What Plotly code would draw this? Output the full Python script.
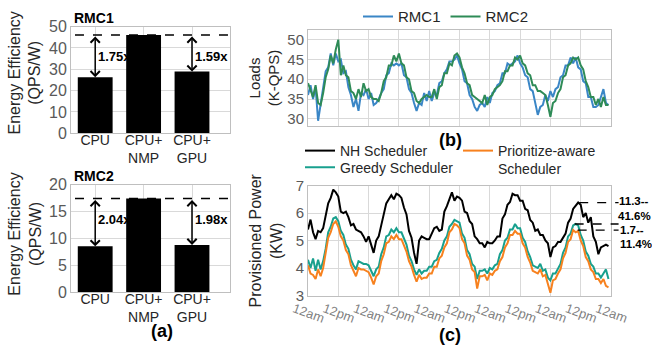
import plotly.graph_objects as go

# ---------------- data ----------------
categories = ["CPU", "CPU+<br>NMP", "CPU+<br>GPU"]
rmc1_eff = [26.3, 46.0, 28.9]
rmc2_eff = [8.53, 17.4, 8.79]
rmc1_ratio_labels = ["1.75x", "1.59x"]
rmc2_ratio_labels = ["2.04x", "1.98x"]

hours = list(range(120))
tick_hours = [0, 12, 24, 36, 48, 60, 72, 84, 96, 108, 120]
tick_text = ["12am", "12pm", "12am", "12pm", "12am", "12pm",
             "12am", "12pm", "12am", "12pm", "12am"]

load_rmc1 = [36, 38.5, 35, 38, 29.5, 34, 37.5, 42, 43, 46.5,
             43.5, 46.5, 44.5, 45, 41.5, 42, 38, 36, 33, 35,
             32, 36.5, 36, 37.5, 35, 36.5, 33.5, 34, 35, 36.5,
             37.5, 41, 41.5, 44, 43.5, 44, 43.5, 44, 41, 40.5,
             37.5, 36.5, 34, 32, 34, 33.5, 36.5, 34.5, 37, 34.5,
             36.5, 36, 39, 39.5, 41.5, 42.5, 44.5, 44.5, 45, 46,
             44, 42.5, 39.5, 39, 36, 35, 33, 32, 33.5, 34,
             33, 35.5, 34, 36.5, 37, 38.5, 39, 41.5, 41.5, 44,
             43.5, 44, 44.5, 46, 44, 43, 41, 40.5, 37.5, 37,
             33.5, 31, 33, 33.5, 36, 34.5, 37, 35.5, 37.5, 38,
             40.5, 41, 43.5, 43.5, 45.5, 44, 45.5, 43, 42.5, 39.5,
             39, 35.5, 35.5, 33, 33, 33.5, 35.5, 37.5, 34, 33.5]

load_rmc2 = [39, 37, 35.5, 38.5, 34, 33.5, 36.5, 40.5, 42.5, 46,
             44, 47.5, 50, 41, 43.5, 41, 40.5, 37, 36.5, 35,
             37.5, 35.5, 39, 37, 37.5, 35.5, 35, 35, 34.5, 36.5,
             39.5, 40.5, 43.5, 43.5, 46, 44.5, 46.5, 44, 43.5, 40.5,
             40, 37, 36.5, 34.5, 34, 35, 35.5, 36, 35.5, 35.5,
             37.5, 35, 38, 38.5, 41.5, 41.5, 44, 43.5, 46, 46.5,
             45.5, 43, 41.5, 39, 38.5, 36, 35.5, 35, 34.5, 34,
             36, 33.5, 35.5, 36, 37.5, 38, 38.5, 39.5, 42, 42,
             43.5, 43.5, 45.5, 45, 46, 44, 43.5, 41.5, 41, 38.5,
             38.5, 37, 37, 36.5, 36, 33.5, 30.5, 34, 34.5, 36.5,
             37.5, 40.5, 41, 43.5, 44, 45.5, 45, 45.5, 43.5, 42.5,
             39.5, 38, 35.5, 35.5, 33.5, 35, 33, 35.5, 33.5, 33.5]

power_nh = [5.4, 5.76, 5.3, 5.05, 5.35, 5.3, 5.45, 5.85, 6.35, 6.55,
            6.85, 6.75, 6.6, 6.05, 6.0, 6.05, 5.85, 5.55, 5.6, 5.4,
            5.35, 5.3, 5.15, 4.95, 5.15, 4.85, 4.55, 5.0, 5.15, 5.55,
            5.9, 6.35, 6.5, 6.65, 6.5, 6.7, 6.65, 6.55, 6.2, 5.95,
            5.35, 5.1, 4.55, 4.15, 5.0, 5.15, 5.1, 5.05, 5.05, 5.25,
            5.45, 5.5, 5.35, 5.4, 6.05, 6.25, 6.5, 6.75, 6.45, 6.6,
            6.55, 6.45, 6.05, 6.0, 5.7, 5.6, 5.15, 5.05, 4.9, 4.9,
            4.75, 4.95, 4.9, 4.9, 5.0, 5.15, 5.15, 5.8, 5.95, 6.3,
            6.4, 6.7, 6.65, 6.65, 6.45, 6.45, 6.15, 6.1, 5.75, 5.65,
            5.35, 5.4, 5.2, 5.2, 5.0, 4.9, 4.4, 4.75, 4.8, 4.95,
            4.95, 5.1, 5.25, 5.65, 5.8, 6.15, 6.25, 6.38, 6.3, 5.85,
            6.0, 5.65, 5.85, 5.15, 4.95, 4.5, 4.75, 4.8, 4.85, 4.8]

power_greedy = [4.3, 4.0, 4.35, 3.9, 4.3, 3.95, 4.25, 4.7, 5.3, 5.5,
                5.8, 5.85, 5.7, 5.35, 5.2, 4.85, 4.7, 4.3, 4.1, 3.95,
                4.25, 4.2, 4.15, 4.15, 4.1, 3.9, 3.7, 3.95, 4.05, 4.5,
                4.75, 5.15, 5.2, 5.4, 5.3, 5.45, 5.3, 5.3, 5.05, 4.85,
                4.45, 4.25, 3.95, 3.75, 3.95, 3.8, 3.9, 3.9, 4.05, 4.05,
                4.25, 4.3, 4.55, 4.7, 5.0, 5.15, 5.5, 5.6, 5.75, 5.7,
                5.65, 5.25, 5.1, 4.65, 4.5, 4.15, 4.05, 3.6, 3.9, 3.9,
                3.95, 3.8, 4.0, 3.95, 4.1, 4.15, 4.5, 4.65, 5.0, 5.1,
                5.4, 5.4, 5.6, 5.45, 5.45, 5.1, 4.95, 4.6, 4.4, 4.1,
                4.05, 4.0, 4.15, 3.9, 3.95, 3.65, 3.55, 3.8, 3.8, 4.0,
                4.15, 4.55, 4.75, 5.15, 5.25, 5.55, 5.6, 5.55, 5.2, 5.0,
                4.6, 4.45, 4.15, 4.05, 3.8, 3.8, 3.65, 3.8, 3.95, 3.6]

power_prio = [4.1, 3.8, 3.75, 3.6, 3.95, 3.7, 4.0, 4.5, 5.1, 5.3,
              5.6, 5.7, 5.5, 5.15, 5.0, 4.65, 4.5, 4.1, 3.9, 3.7,
              4.0, 3.95, 3.95, 3.9, 3.85, 3.65, 3.4, 3.7, 3.8, 4.25,
              4.5, 4.9, 4.95, 5.15, 5.05, 5.2, 5.05, 5.05, 4.85, 4.6,
              4.25, 4.05, 3.75, 3.5, 3.75, 3.6, 3.65, 3.65, 3.8, 3.8,
              4.05, 4.05, 4.35, 4.45, 4.75, 4.9, 5.3, 5.4, 5.6, 5.55,
              5.45, 5.05, 4.9, 4.45, 4.3, 3.95, 3.85, 3.25, 3.7, 3.7,
              3.75, 3.55, 3.8, 3.75, 3.9, 3.95, 4.25, 4.4, 4.75, 4.9,
              5.2, 5.2, 5.35, 5.25, 5.25, 4.9, 4.75, 4.4, 4.2, 3.9,
              3.85, 3.8, 3.95, 3.7, 3.75, 3.4, 3.1, 3.55, 3.6, 3.8,
              3.95, 4.35, 4.55, 4.95, 5.05, 5.38, 5.3, 5.35, 5.0, 4.8,
              4.4, 4.25, 3.95, 3.85, 3.6, 3.6, 3.45, 3.6, 3.35, 3.3]

saving_labels = ["11.3--", "41.6%", "1.7--", "11.4%"]

# ---------------- styling ----------------
FONT = "Liberation Sans, Arial, sans-serif"
GRID = "#d9d9d9"
FRAME = "#bfbfbf"
TICKC = "#595959"
TEXTC = "#262626"
W, H = 652, 347


def px_x(x):
    return x / W


def px_y(y):
    return 1 - y / H


fig = go.Figure()

# (a) bars
fig.add_trace(go.Bar(x=categories, y=rmc1_eff, marker_color="black", width=0.72,
                     showlegend=False, xaxis="x", yaxis="y"))
fig.add_trace(go.Bar(x=categories, y=rmc2_eff, marker_color="black", width=0.72,
                     showlegend=False, xaxis="x2", yaxis="y2"))

# (b) loads
fig.add_trace(go.Scatter(x=hours, y=load_rmc1, mode="lines", name="RMC1",
                         line=dict(color="#3a86c6", width=2),
                         xaxis="x3", yaxis="y3", legend="legend3"))
fig.add_trace(go.Scatter(x=hours, y=load_rmc2, mode="lines", name="RMC2",
                         line=dict(color="#2e8b57", width=2),
                         xaxis="x3", yaxis="y3", legend="legend3"))

# (c) provisioned power
fig.add_trace(go.Scatter(x=hours, y=power_nh, mode="lines", name="NH Scheduler",
                         line=dict(color="black", width=2),
                         xaxis="x4", yaxis="y4", legend="legend"))
fig.add_trace(go.Scatter(x=hours, y=power_greedy, mode="lines", name="Greedy Scheduler",
                         line=dict(color="#18a08e", width=2),
                         xaxis="x4", yaxis="y4", legend="legend4"))
fig.add_trace(go.Scatter(x=hours, y=power_prio, mode="lines",
                         name="Prioritize-aware<br>Scheduler",
                         line=dict(color="#f7811e", width=2),
                         xaxis="x4", yaxis="y4", legend="legend2"))

common = dict(showline=True, mirror=True, linecolor=FRAME, linewidth=1,
              gridcolor=GRID, showgrid=True, zeroline=False, ticks="",
              automargin=False)

xa_dom = [px_x(71), px_x(230)]
xc_dom = [px_x(308), px_x(611)]


def leg(x, y, size, yanchor="top", orientation="v", valign="middle"):
    return dict(x=px_x(x), y=px_y(y), xanchor="left", yanchor=yanchor,
                orientation=orientation, valign=valign,
                font=dict(size=size, color=TEXTC, family=FONT),
                bgcolor="rgba(0,0,0,0)", borderwidth=0)


fig.update_layout(
    template="none",
    width=W, height=H, margin=dict(l=0, r=0, t=0, b=0, pad=0),
    paper_bgcolor="white", plot_bgcolor="white",
    font=dict(family=FONT, color=TEXTC),
    xaxis=dict(domain=xa_dom, anchor="y", tickfont=dict(size=14, color=TEXTC),
               ticklabelstandoff=-6, **common),
    yaxis=dict(domain=[px_y(128.3), px_y(19)], anchor="x", range=[0, 50], dtick=10,
               tickfont=dict(size=16, color=TICKC), **common),
    xaxis2=dict(domain=xa_dom, anchor="y2", tickfont=dict(size=14, color=TEXTC),
                ticklabelstandoff=-6, **common),
    yaxis2=dict(domain=[px_y(291), px_y(180.7)], anchor="x2", range=[0, 20], dtick=5,
                tickfont=dict(size=16, color=TICKC), **common),
    xaxis3=dict(domain=xc_dom, anchor="y3", range=[0, 120], tickvals=tick_hours,
                showticklabels=False, **common),
    yaxis3=dict(domain=[px_y(120.7), px_y(22.7)], anchor="x3", range=[28.2, 52.4], dtick=5,
                tickfont=dict(size=15, color=TICKC), **common),
    xaxis4=dict(domain=xc_dom, anchor="y4", range=[0, 120], tickvals=tick_hours,
                ticktext=tick_text, tickangle=20, ticklabelshift=-14,
                tickfont=dict(size=13, color="#7f7f7f"), **common),
    yaxis4=dict(domain=[px_y(294.3), px_y(181.7)], anchor="x4", range=[3, 7], dtick=1,
                tickfont=dict(size=15, color=TICKC), **common),
    legend=leg(300, 130, 14),
    legend4=leg(300, 147, 14),
    legend2=leg(458, 130, 14, valign="top"),
    legend3=leg(358, 9, 15, yanchor="middle", orientation="h"),
)

shapes = []
annotations = []


def note(text, xc, yc, size, color="black", xanchor="center", angle=0, align="center"):
    return dict(x=px_x(xc), y=px_y(yc), xref="paper", yref="paper", text=text,
                showarrow=False, xanchor=xanchor, yanchor="middle", textangle=angle,
                align=align, font=dict(size=size, color=color, family=FONT))


# (a) dashed reference lines + arrows + ratio labels
for xr, yr, eff, labels, label_y in [("x", "y", rmc1_eff, rmc1_ratio_labels, 36),
                                      ("x2", "y2", rmc2_eff, rmc2_ratio_labels, 13.5)]:
    shapes.append(dict(type="line", xref=f"{xr} domain", yref=yr, x0=0.025, x1=1,
                       y0=eff[1], y1=eff[1], line=dict(color="black", width=1.5, dash="dash")))
    for idx, lab in zip([0, 2], labels):
        annotations.append(dict(x=idx, y=eff[idx], ax=idx, ay=eff[1], xref=xr, yref=yr,
                                axref=xr, ayref=yr, showarrow=True, arrowhead=4,
                                arrowside="end+start", arrowsize=1.2, arrowwidth=1.5,
                                arrowcolor="black", standoff=0, startstandoff=0, text=""))
        annotations.append(dict(x=idx, y=label_y, xref=xr, yref=yr, text=f"<b>{lab}</b>",
                                showarrow=False, xanchor="left", yanchor="middle", xshift=1,
                                font=dict(size=13, color="black")))

# panel titles
annotations.append(note("<b>RMC1</b>", 72, 10, 14, xanchor="left"))
annotations.append(note("<b>RMC2</b>", 72, 172, 14, xanchor="left"))

# axis titles (as rotated text)
annotations.append(note("Energy Efficiency<br>(QPS/W)", 25, 67, 16, TEXTC, angle=-90))
annotations.append(note("Energy Efficiency<br>(QPS/W)", 25, 232, 16, TEXTC, angle=-90))
annotations.append(note("Loads<br>(K-QPS)", 264, 72, 15, TEXTC, angle=-90))
annotations.append(note("Provisioned Power<br>(KW)", 266, 238, 16, TEXTC, angle=-90))

# sub-figure labels
annotations.append(note("<b>(a)</b>", 162, 331, 18))
annotations.append(note("<b>(b)</b>", 450, 135, 18))
annotations.append(note("<b>(c)</b>", 450, 335, 18))

# (c) dashed peak markers and savings labels
peak_nh = max(power_nh[96:])
peak_greedy = max(power_greedy[96:])
peak_prio = max(power_prio[96:])
for yv, x0 in [(peak_nh, 0.895), (peak_greedy, 0.88), (peak_prio, 0.89)]:
    shapes.append(dict(type="line", xref="x4 domain", yref="y4", x0=x0, x1=1.025,
                       y0=yv, y1=yv, line=dict(color="black", width=1.3, dash="dash")))
for lab, xl, yc in zip(saving_labels, [617, 616, 618, 618], [198, 212.5, 227, 241.5]):
    annotations.append(note(f"<b>{lab}</b>", xl, yc, 11.5, xanchor="left"))

fig.update_layout(shapes=shapes, annotations=annotations)

fig.write_html("out.html")
